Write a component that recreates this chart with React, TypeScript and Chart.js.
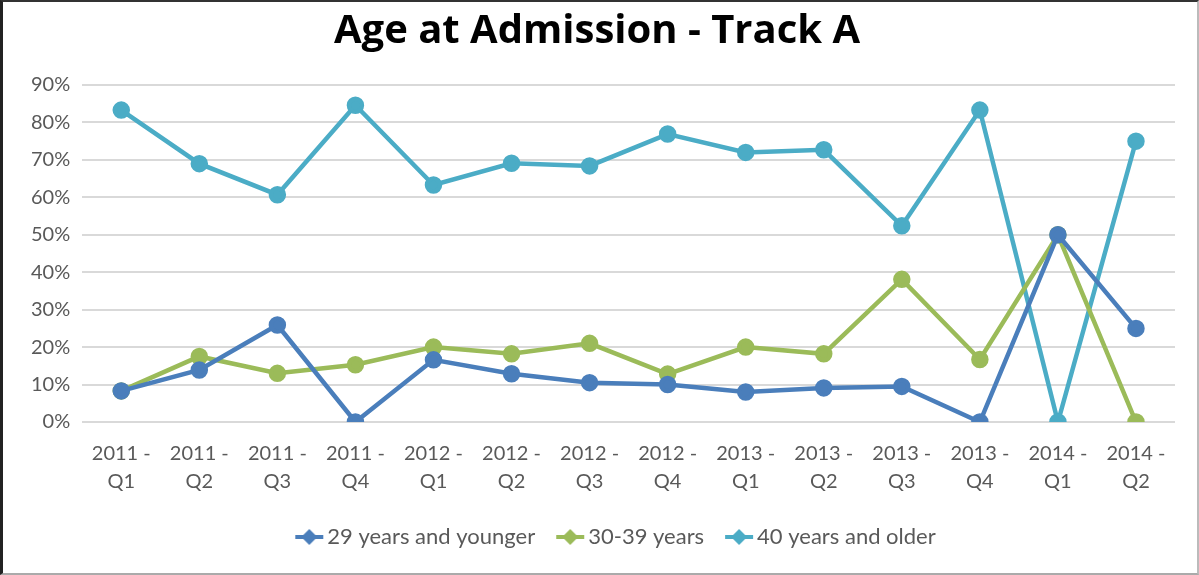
import React, { useEffect, useRef } from "react";
import { Chart, registerables } from "chart.js";

Chart.register(...registerables);

const categories: string[][] = [
  ["2011 -", "Q1"], ["2011 -", "Q2"], ["2011 -", "Q3"], ["2011 -", "Q4"],
  ["2012 -", "Q1"], ["2012 -", "Q2"], ["2012 -", "Q3"], ["2012 -", "Q4"],
  ["2013 -", "Q1"], ["2013 -", "Q2"], ["2013 -", "Q3"], ["2013 -", "Q4"],
  ["2014 -", "Q1"], ["2014 -", "Q2"],
];

const young: number[] = [0.083, 0.139, 0.259, 0.0, 0.166, 0.129, 0.105, 0.100, 0.080, 0.091, 0.095, 0.0, 0.5, 0.25];
const middle: number[] = [0.083, 0.175, 0.130, 0.153, 0.200, 0.182, 0.210, 0.128, 0.200, 0.182, 0.381, 0.167, 0.5, 0.0];
const older: number[] = [0.833, 0.690, 0.607, 0.846, 0.633, 0.691, 0.684, 0.769, 0.720, 0.727, 0.524, 0.833, 0.0, 0.75];

const seriesNames = ["29 years and younger", "30-39 years", "40 years and older"];
const seriesColors = ["#4A7EBB", "#9BBB59", "#4BACC6"];

const FONT = "Lato, 'Open Sans', sans-serif";

function legendMarker(color: string): HTMLCanvasElement {
  const c = document.createElement("canvas");
  c.width = 38;
  c.height = 18;
  const ctx = c.getContext("2d")!;
  ctx.strokeStyle = color;
  ctx.fillStyle = color;
  ctx.lineWidth = 4;
  ctx.beginPath();
  ctx.moveTo(9, 9);
  ctx.lineTo(37, 9);
  ctx.stroke();
  ctx.beginPath();
  ctx.moveTo(23, 1);
  ctx.lineTo(31, 9);
  ctx.lineTo(23, 17);
  ctx.lineTo(15, 9);
  ctx.closePath();
  ctx.fill();
  return c;
}

const legendShift = {
  id: "legendShift",
  afterLayout(chart: any) {
    if (chart.legend) {
      chart.legend.left += 18;
      chart.legend.right += 18;
    }
  },
};

export default function App() {
  const ref = useRef<HTMLCanvasElement | null>(null);

  useEffect(() => {
    document.body.style.margin = "0";
    if (!ref.current) return;
    const data = [young, middle, older];
    const markers = seriesColors.map(legendMarker);
    const chart = new Chart(ref.current, {
      type: "line",
      data: {
        labels: categories,
        datasets: data.map((d, i) => ({
          label: seriesNames[i],
          data: d,
          borderColor: seriesColors[i],
          backgroundColor: seriesColors[i],
          pointBackgroundColor: seriesColors[i],
          pointBorderColor: seriesColors[i],
          borderWidth: 4.5,
          pointRadius: 6.5,
          pointStyle: "circle",
          tension: 0,
        })),
      },
      plugins: [legendShift],
      options: {
        animation: false,
        responsive: false,
        maintainAspectRatio: false,
        layout: { padding: { left: 16, right: 20, top: 6, bottom: 15 } },
        plugins: {
          title: {
            display: true,
            text: "Age at Admission - Track A",
            color: "#000000",
            font: { family: "'Open Sans', sans-serif", size: 40, weight: "bold" },
            padding: { top: 0, bottom: 29 },
          },
          legend: {
            position: "bottom",
            labels: {
              usePointStyle: true,
              generateLabels: (ch: any) =>
                ch.data.datasets.map((ds: any, i: number) => ({
                  text: ds.label,
                  fillStyle: seriesColors[i],
                  strokeStyle: seriesColors[i],
                  fontColor: "#595959",
                  pointStyle: markers[i],
                  datasetIndex: i,
                  hidden: false,
                  lineWidth: 0,
                })),
              color: "#595959",
              font: { family: FONT, size: 22 },
              padding: 20,
            },
          },
          tooltip: { enabled: false },
        },
        scales: {
          x: {
            offset: true,
            grid: { display: false },
            border: { display: false },
            ticks: {
              color: "#595959",
              font: { family: FONT, size: 20, lineHeight: 1.4 },
              maxRotation: 0,
              autoSkip: false,
              padding: 10,
            },
          },
          y: {
            min: 0,
            max: 0.9,
            grid: { color: "#D9D9D9", lineWidth: 2, drawTicks: false },
            border: { display: false },
            ticks: {
              stepSize: 0.1,
              color: "#595959",
              font: { family: FONT, size: 20 },
              padding: 12,
              callback: (v: any) => Math.round(Number(v) * 100) + "%",
            },
          },
        },
      },
    });
    return () => chart.destroy();
  }, []);

  return (
    <div
      style={{
        width: 1199,
        height: 575,
        boxSizing: "border-box",
        borderTop: "2px solid #333",
        borderLeft: "3px solid #222",
        borderRight: "2px solid #bbb",
        borderBottom: "2px solid #aaa",
        background: "#fff",
        overflow: "hidden",
      }}
    >
      <canvas ref={ref} width={1192} height={571} style={{ display: "block" }} />
    </div>
  );
}
